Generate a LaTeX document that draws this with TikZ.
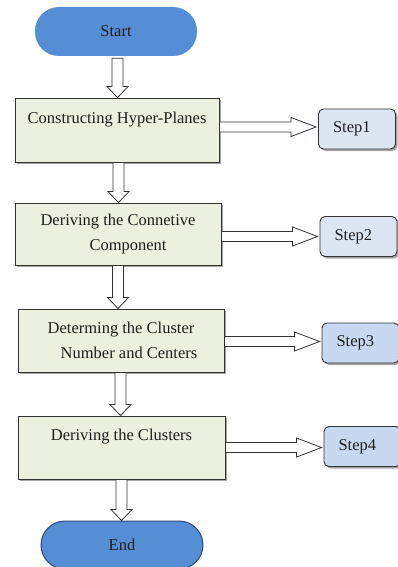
\documentclass[tikz,border=0pt]{standalone}
\usepackage{fontspec}
\setmainfont{Liberation Serif}
\newfontfamily\tnr{Liberation Serif}
\usetikzlibrary{calc,shadows}
\definecolor{boxfill}{HTML}{EBF1DE}
\definecolor{steplight}{HTML}{DCE6F2}
\definecolor{stepdark}{HTML}{C6D9F1}
\definecolor{termfill}{HTML}{558ED5}
\definecolor{termline}{HTML}{2C4A74}
\definecolor{ink}{HTML}{1E1E1E}
\definecolor{edge}{HTML}{333333}
\newcommand\varr[4]{%
  \draw[bigarrow] let \p1=(#1.south), \p2=(#2.north) in
    (\x1+#3-5.5pt,\y1-#4) -- (\x1+#3-5.5pt,\y2+11pt) -- (\x1+#3-10.5pt,\y2+11pt)
    -- (\x1+#3,\y2) -- (\x1+#3+10.5pt,\y2+11pt) -- (\x1+#3+5.5pt,\y2+11pt)
    -- (\x1+#3+5.5pt,\y1-#4) -- cycle;}
\newcommand\harr[3]{%
  \draw[bigarrow] let \p1=(#1.east), \p2=(#2.west) in
    (\x1,\y2+#3+5pt) -- (\x2-27pt,\y2+#3+5pt) -- (\x2-27pt,\y2+#3+9.5pt)
    -- (\x2-2pt,\y2+#3) -- (\x2-27pt,\y2+#3-9.5pt) -- (\x2-27pt,\y2+#3-5pt)
    -- (\x1,\y2+#3-5pt) -- cycle;}
\begin{document}
\begin{tikzpicture}[x=1pt,y=-1pt,
  every node/.style={text=ink},
  term/.style={rectangle, rounded corners=24pt, fill=termfill, inner sep=0pt,
    font=\tnr\fontsize{16.5}{20}\selectfont},
  procbox/.style={rectangle, draw=edge, line width=0.9pt, fill=boxfill, inner sep=0pt,
    align=center, font=\tnr\fontsize{16.5}{25}\selectfont,
    drop shadow={shadow xshift=2.2pt, shadow yshift=-2.2pt, fill=black, opacity=0.35}},
  stepbox/.style={rectangle, rounded corners=5pt, draw=edge, line width=0.9pt,
    text width=48pt, inner xsep=14.5pt, inner ysep=0pt, minimum height=40pt, align=left,
    font=\tnr\fontsize{16.5}{20}\selectfont,
    drop shadow={shadow xshift=2pt, shadow yshift=-2pt, fill=black, opacity=0.35}},
  bigarrow/.style={draw=edge, fill=white, line width=0.8pt, line join=miter}]
\useasboundingbox (0,0) rectangle (398,567);

\node[term, minimum width=162pt, minimum height=49pt] (start) at (116,31.5) {Start};
\node[term, draw=termline, line width=1pt, minimum width=162pt, minimum height=48pt] (end) at (122,545) {End};

\node[procbox, minimum width=204pt, minimum height=64pt] (b1) at (117,130)
  {Constructing Hyper-Planes\\ \mbox{}};
\node[procbox, minimum width=206pt, minimum height=62pt] (b2) at (118,234)
  {Deriving the Connetive\\ \hspace*{20pt}Component};
\node[procbox, minimum width=206pt, minimum height=63pt] (b3) at (121,340.5)
  {Determing the Cluster\\ \hspace*{16pt}Number and Centers};
\node[procbox, minimum width=207pt, minimum height=63pt] (b4) at (121.5,447.5)
  {Deriving the Clusters\\ \mbox{}};

\node[stepbox, fill=steplight] (s1) at (357,129) {Step1};
\node[stepbox, fill=steplight] (s2) at (358.5,236.5) {Step2};
\node[stepbox, fill=stepdark] (s3) at (360.5,343) {Step3};
\node[stepbox, fill=stepdark] (s4) at (362.5,446.5) {Step4};

\varr{start}{b1}{1.5pt}{2pt}
\varr{b1}{b2}{1.5pt}{0pt}
\varr{b2}{b3}{0pt}{0pt}
\varr{b3}{b4}{-0.5pt}{0pt}
\varr{b4}{end}{0pt}{0pt}

\harr{b1}{s1}{2pt}
\harr{b2}{s2}{0pt}
\harr{b3}{s3}{1.5pt}
\harr{b4}{s4}{-1pt}
\end{tikzpicture}
\end{document}
